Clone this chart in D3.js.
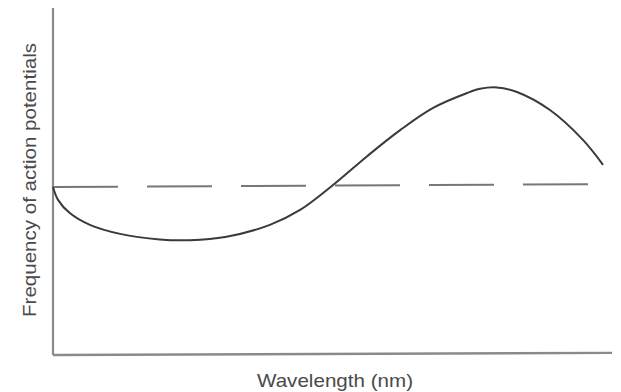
<!DOCTYPE html>
<html>
<head>
<meta charset="utf-8">
<title>response curve</title>
<script src="https://d3js.org/d3.v7.min.js"></script>
<style>
  body { margin: 0; background: #fff; }
  text { font-family: "Liberation Sans", Arial, sans-serif; fill: #4a4a4a; }
</style>
</head>
<body>
<script>
// wavelength position (arbitrary, 0-100) and firing frequency (arbitrary, 0-100)
var wavelength = [0, 0.9, 3.0, 6.6, 12.0, 19.1, 24.5, 30.8, 38.8, 44.2, 50.1, 56.2, 62.1, 68.0, 74.1, 76.4, 79.4, 83.0, 88.9, 94.8, 98.4]
var frequency  = [48.4, 44.7, 40.9, 37.5, 34.9, 33.3, 33.1, 34.0, 37.5, 41.8, 49.0, 57.3, 64.8, 71.2, 75.5, 76.7, 77.1, 75.8, 70.6, 62.0, 54.8]
// spontaneous (baseline) rate, drawn dashed
var baseX = [0, 96]
var baseY = [48.4, 49.2]

var xLabel = "Wavelength (nm)"
var yLabel = "Frequency of action potentials"

var w = 621
var h = 392
var svg = d3.select("body").append("svg").attr("width", w).attr("height", h)

var xScale = d3.scaleLinear().domain([0, 100]).range([53, 612])
var yScale = d3.scaleLinear().domain([0, 100]).range([355, 8])

// axes (plain lines, no ticks)
svg.append("line")
    .attr("x1", xScale(0)).attr("y1", yScale(100))
    .attr("x2", xScale(0)).attr("y2", yScale(0))
    .attr("stroke", "#8a8a8a").attr("stroke-width", 2.2)
svg.append("line")
    .attr("x1", xScale(0)).attr("y1", yScale(0))
    .attr("x2", xScale(100)).attr("y2", yScale(0.6))
    .attr("stroke", "#8a8a8a").attr("stroke-width", 2.4)

var baseline = d3.line()
    .x(function(d) { return xScale(d[0]) })
    .y(function(d) { return yScale(d[1]) })

svg.append("path")
    .datum(d3.zip(baseX, baseY))
    .attr("d", baseline)
    .attr("fill", "none")
    .attr("stroke", "#777")
    .attr("stroke-width", 2)
    .attr("stroke-dasharray", "65,29")

var line = d3.line()
    .x(function(d) { return xScale(d[0]) })
    .y(function(d) { return yScale(d[1]) })
    .curve(d3.curveCatmullRom.alpha(0.5))

svg.append("path")
    .datum(d3.zip(wavelength, frequency))
    .attr("d", line)
    .attr("fill", "none")
    .attr("stroke", "#3a3a3a")
    .attr("stroke-width", 2)

svg.append("text")
    .attr("x", 335).attr("y", 387)
    .attr("text-anchor", "middle")
    .attr("font-size", 19)
    .attr("textLength", 156)
    .attr("lengthAdjust", "spacingAndGlyphs")
    .text(xLabel)

svg.append("text")
    .attr("transform", "translate(36,180) rotate(-90)")
    .attr("text-anchor", "middle")
    .attr("font-size", 19)
    .attr("textLength", 274)
    .attr("lengthAdjust", "spacingAndGlyphs")
    .text(yLabel)
</script>
</body>
</html>
